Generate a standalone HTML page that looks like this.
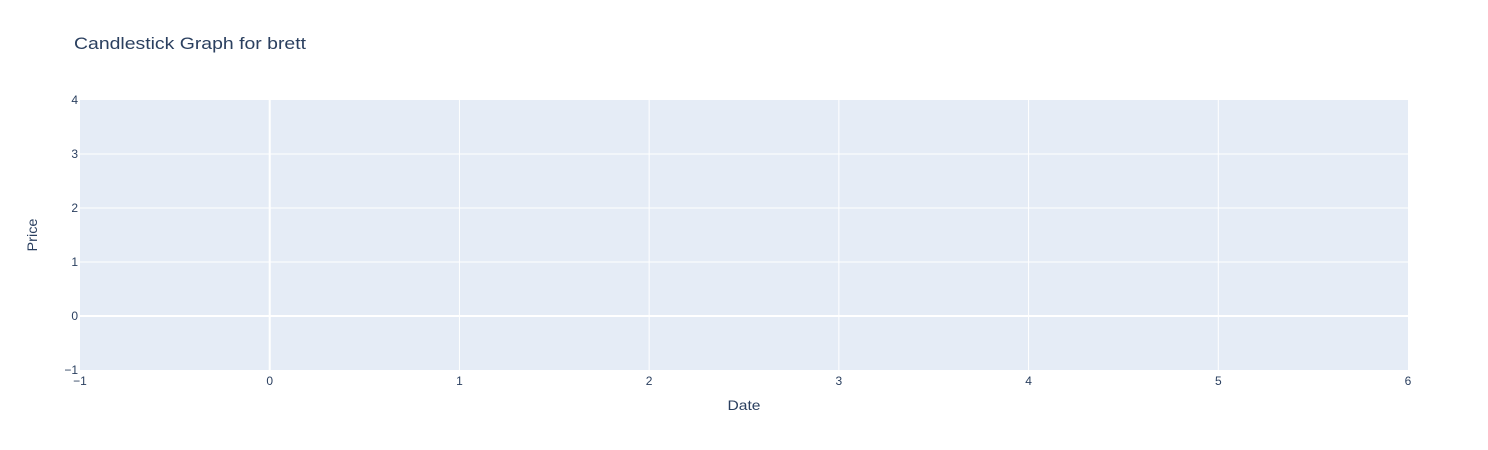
<!DOCTYPE html>
<html><head><meta charset="utf-8"><style>
body{margin:0;background:#fff;}
svg{display:block;font-family:"Liberation Sans",sans-serif;}
</style></head><body>
<svg id="chart" width="1488" height="450">
<rect x="0" y="0" width="1488" height="450" fill="#fff"/>
<text x="74" y="49" font-size="17" fill="#2a3f5f" textLength="232" lengthAdjust="spacingAndGlyphs">Candlestick Graph for brett</text>
<rect x="80" y="100" width="1328" height="270" fill="#e5ecf6"/>
<g id="grid"></g>
<g id="ticks"></g>
<text x="744" y="410" font-size="14" fill="#2a3f5f" text-anchor="middle" textLength="33" lengthAdjust="spacingAndGlyphs">Date</text>
<text x="37" y="235" font-size="14" fill="#2a3f5f" text-anchor="middle" textLength="33" lengthAdjust="spacingAndGlyphs" transform="rotate(-90 37 235)">Price</text>
</svg>
<script>
const xTicks=[-1,0,1,2,3,4,5,6];
const yTicks=[-1,0,1,2,3,4];
const xRange=[-1,6];
const yRange=[-1,4];
const L=80,R=1408,T=100,B=370;
function xs(v){return L+(v-xRange[0])/(xRange[1]-xRange[0])*(R-L);}
function ys(v){return B-(v-yRange[0])/(yRange[1]-yRange[0])*(B-T);}
const NS="http://www.w3.org/2000/svg";
const grid=document.getElementById('grid'),ticks=document.getElementById('ticks');
function lab(x,y,t,anchor){const e=document.createElementNS(NS,'text');e.setAttribute('x',x);e.setAttribute('y',y);e.setAttribute('font-size','12');e.setAttribute('fill','#2a3f5f');e.setAttribute('text-anchor',anchor);e.textContent=t;return e;}
xTicks.forEach(v=>{
  const x=xs(v);
  if(v>xRange[0]&&v<xRange[1]){
    const l=document.createElementNS(NS,'line');
    l.setAttribute('x1',x);l.setAttribute('x2',x);l.setAttribute('y1',T);l.setAttribute('y2',B);
    l.setAttribute('stroke','#fff');l.setAttribute('stroke-width',v===0?2:1);
    
    
    grid.appendChild(l);
  }
  const t=lab(x,B+15,String(v).replace('-','\u2212'),'middle');
  
  
  ticks.appendChild(t);
});
yTicks.forEach(v=>{
  const y=ys(v);
  if(v>yRange[0]&&v<yRange[1]){
    const l=document.createElementNS(NS,'line');
    l.setAttribute('x1',L);l.setAttribute('x2',R);l.setAttribute('y1',y);l.setAttribute('y2',y);
    l.setAttribute('stroke','#fff');l.setAttribute('stroke-width',v===0?2:1);
    
    
    grid.appendChild(l);
  }
  const t=lab(L-2,y+4,String(v).replace('-','\u2212'),'end');
  
  
  ticks.appendChild(t);
});
</script>
</body></html>
